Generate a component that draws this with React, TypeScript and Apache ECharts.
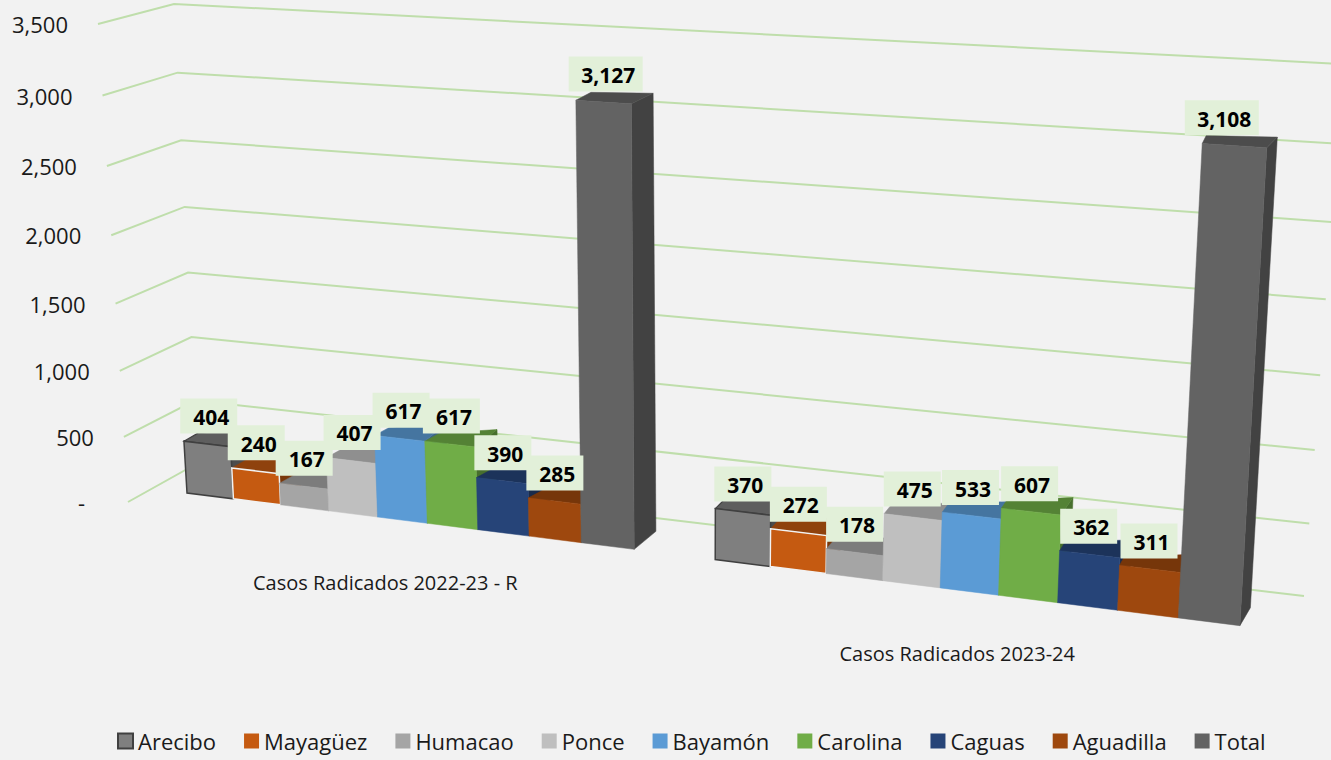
import React, { useEffect, useRef } from "react";
import * as echarts from "echarts";

const categories = ["Casos Radicados 2022-23 - R", "Casos Radicados 2023-24"];
const tickValues = [0, 500, 1000, 1500, 2000, 2500, 3000, 3500];
const tickLabels = ["-", "500", "1,000", "1,500", "2,000", "2,500", "3,000", "3,500"];
const regions = ["Arecibo", "Mayagüez", "Humacao", "Ponce", "Bayamón", "Carolina", "Caguas", "Aguadilla", "Total"];
const arecibo = [404, 370];
const mayaguez = [240, 272];
const humacao = [167, 178];
const ponce = [407, 475];
const bayamon = [617, 533];
const carolina = [617, 607];
const caguas = [390, 362];
const aguadilla = [285, 311];
const total = [3127, 3108];
const allValues = [arecibo, mayaguez, humacao, ponce, bayamon, carolina, caguas, aguadilla, total];

const frontColors = ["#7F7F7F", "#C55A11", "#A5A5A5", "#BFBFBF", "#5B9BD5", "#70AD47", "#264478", "#9E480E", "#636363"];
const topColors = ["#5E5E5E", "#8F420D", "#7C7C7C", "#8F8F8F", "#4575A0", "#548235", "#1C335A", "#76360A", "#4C4C4C"];
const sideColors = ["#4C4C4C", "#7A380B", "#6A6A6A", "#7A7A7A", "#3A6388", "#476F2D", "#182B4C", "#652E09", "#424242"];
const frontBorders = ["#404040", "#F2F2F2", null, null, null, null, null, null, null];

const FONT = '"Open Sans", "Noto Sans", sans-serif';
const GROUP_OFFSET = [0, 10.5];
const PLOT_TOP = 24;
const PLOT_BOTTOM = 502;

// perspective helpers: flat axis coordinates -> skewed 3D picture
const warp = (t: number) => t * (0.945 + 0.055 * t);
const heightOf = (api: any, v: number) => warp((PLOT_BOTTOM - api.coord([0, v])[1]) / (PLOT_BOTTOM - PLOT_TOP));
const floorX = (api: any, u: number) => api.coord([u, 0])[0] + 0.41 * u * u;
const floorY = (x: number) => 493 + 0.126 * (x - 187);
const project = (api: any, u: number, v: number) => {
  const x0 = floorX(api, u);
  const y0 = floorY(x0);
  const f = heightOf(api, v);
  return [x0 + (-28 + 0.0555 * (x0 - 186)) * f, y0 - (472 + 0.066 * (x0 - 186)) * f];
};
const poly = (points: number[][], fill: string, stroke?: string | null, lineWidth = 1.5, z2 = 0) => ({
  type: "polygon",
  z2,
  shape: { points },
  style: { fill, stroke: stroke || fill, lineWidth: stroke ? lineWidth : 0.5 },
});

const barRender = (s: number) => (_p: any, api: any) => {
  const g = api.value(0);
  const v = api.value(1);
  const u = GROUP_OFFSET[g] + s;
  const fl = project(api, u, v);
  const fr = project(api, u + 1, v);
  const bl = project(api, u, 0);
  const br = project(api, u + 1, 0);
  const f = heightOf(api, v);
  const dL = g === 0 ? 14 + 0.15 * s : 8 - 0.5 * s;
  const dR = dL + 6.5;
  const tl = [fl[0] + dL, fl[1] - 8];
  const tr = [fr[0] + dR, fr[1] - (19 - 9.5 * f)];
  const sb = [br[0] + dR, br[1] - 18];
  const text = v.toLocaleString("en-US");
  const w = 57 + (text.length - 3) * 8.5;
  const cx = ((fl[0] + fr[0]) / 2 + (bl[0] + br[0]) / 2) / 2;
  const boxBottom = (fl[1] + fr[1]) / 2 - 10.5;
  return {
    type: "group",
    children: [
      poly([fr, tr, sb, br], sideColors[s]),
      poly([fl, tl, tr, fr], topColors[s], frontBorders[s] === "#404040" ? "#404040" : null, 1.2),
      poly([fl, fr, br, bl], frontColors[s], frontBorders[s]),
      {
        type: "rect",
        z2: 100,
        shape: { x: cx - w / 2, y: boxBottom - 35, width: w, height: 35 },
        style: { fill: "#E2F0D9" },
      },
      {
        type: "text",
        z2: 101,
        x: cx + 2.5,
        y: boxBottom - 16.5,
        style: { text, font: `bold 21px ${FONT}`, fill: "#000000", align: "center", verticalAlign: "middle" },
      },
    ],
  };
};

const gridRender = (_p: any, api: any) => {
  const v = api.value(0);
  const i = api.value(1);
  const f = heightOf(api, v);
  const front = [128 - 30 * f, PLOT_BOTTOM - 478 * f];
  const backLeft = [198 - 24 * f, 463 - 459 * f];
  const backRight = [1304 + 39 * f, 596 - 532 * f];
  const labelShift = tickLabels[i] === "-" ? 13 : 0;
  return {
    type: "group",
    children: [
      {
        type: "polyline",
        shape: { points: [front, backLeft, backRight] },
        style: { stroke: "#BFDEAB", lineWidth: 2, fill: "none" },
      },
      {
        type: "text",
        x: front[0] - 30 - labelShift,
        y: front[1],
        style: { text: tickLabels[i], font: `22px ${FONT}`, fill: "#1A1A1A", align: "right", verticalAlign: "middle" },
      },
    ],
  };
};

const categoryRender = (_p: any, api: any) => {
  const g = api.value(0);
  const x = floorX(api, GROUP_OFFSET[g] + 4.5);
  return {
    type: "text",
    x: x - 17 + 5 * g,
    y: floorY(x) + 62,
    style: { text: categories[g], font: `20px ${FONT}`, fill: "#1A1A1A", align: "center", verticalAlign: "middle" },
  };
};

export default function App() {
  const ref = useRef<HTMLDivElement>(null);
  useEffect(() => {
    const chart = echarts.init(ref.current!, null, { renderer: "svg" });
    chart.setOption({
      animation: false,
      backgroundColor: "#F2F2F2",
      grid: { left: 187, width: 920, top: PLOT_TOP, bottom: 760 - PLOT_BOTTOM },
      xAxis: { type: "value", min: 0, max: 20, show: false },
      yAxis: { type: "value", min: 0, max: 3500, interval: 500, show: false },
      legend: {
        left: 112,
        top: 725,
        itemWidth: 15,
        itemHeight: 15,
        itemGap: 28,
        icon: "rect",
        textStyle: { fontFamily: FONT, fontSize: 22, color: "#1A1A1A" },
        data: regions.map((name, s) => ({
          name,
          itemStyle: frontBorders[s] === "#404040" ? { color: frontColors[s], borderColor: "#404040", borderWidth: 2 } : { color: frontColors[s], borderWidth: 0 },
        })),
      },
      series: [
        {
          type: "custom",
          name: "grid",
          silent: true,
          renderItem: gridRender,
          encode: { x: 1, y: 0 },
          data: tickValues.map((v, i) => [v, i]),
        },
        {
          type: "custom",
          name: "categories",
          silent: true,
          renderItem: categoryRender,
          encode: { x: 0 },
          data: categories.map((_c, g) => [g]),
        },
        ...regions.map((name, s) => ({
          type: "custom",
          name,
          silent: true,
          itemStyle: { color: frontColors[s] },
          renderItem: barRender(s),
          encode: { x: 0, y: 1 },
          data: allValues[s].map((v, g) => [g, v]),
        })),
      ],
    });
    return () => chart.dispose();
  }, []);
  return <div ref={ref} style={{ position: "fixed", left: 0, top: 0, width: 1331, height: 760 }} />;
}
